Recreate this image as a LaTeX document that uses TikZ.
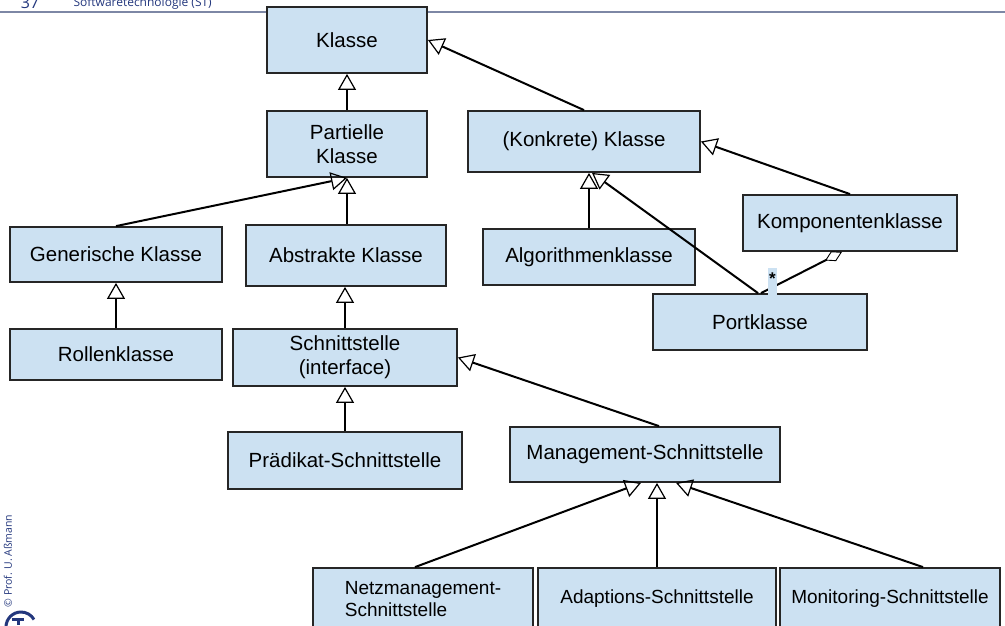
\documentclass[tikz,border=0pt]{standalone}
\usepackage{fontspec}
\setmainfont{Liberation Sans}
\newfontfamily\hdrfont{Open Sans}
\usetikzlibrary{arrows.meta,calc}
\definecolor{boxfill}{RGB}{204,225,242}
\definecolor{hdrline}{RGB}{125,135,165}
\definecolor{hdrtext}{RGB}{35,55,125}
\tikzset{
  box/.style={draw=black!85, line width=1.8pt, fill=boxfill, inner sep=2pt, align=center,
    font=\fontsize{20.5}{24}\selectfont},
  gen/.style={line width=2pt, -{Triangle[open,length=16pt,width=18pt,line width=1.2pt]}},
  agg/.style={line width=2pt, -{Diamond[open,length=19pt,width=11pt,line width=0.9pt]}},
}
\begin{document}
\begin{tikzpicture}[x=1pt,y=-1pt]
\useasboundingbox (0,0) rectangle (1005,625);
% header
\draw[hdrline, line width=1.2pt] (0,12) -- (1005,12);
\node[anchor=base, text=hdrtext, font=\hdrfont\fontsize{16}{16}\selectfont] (pagenum) at (30,8) {37};
\node[anchor=base west, text=hdrtext, font=\hdrfont\fontsize{12}{12}\selectfont] (course) at (70,6.5) {Softwaretechnologie (ST)};
\node[rotate=90, text=hdrtext, font=\hdrfont\fontsize{10.5}{10.5}\selectfont] (author) at (8,561) {© Prof. U. Aßmann};
\draw[hdrtext, line width=3pt] (6,627) arc[start angle=180, end angle=330, radius=15];
\draw[hdrtext, line width=3pt] (12,619) -- (24,619) (18,619) -- (18,625);

% boxes
\node[box, minimum width=160pt, minimum height=66pt] (klasse) at (347,40) {Klasse};
\node[box, minimum width=160pt, minimum height=66pt] (partielle) at (347,144) {Partielle\\Klasse};
\node[box, minimum width=232pt, minimum height=61pt] (konkrete) at (584,141.5) {(Konkrete) Klasse};
\node[box, minimum width=212pt, minimum height=55pt] (generisch) at (116,254.5) {Generische Klasse};
\node[box, minimum width=200pt, minimum height=61pt] (abstrakt) at (346,255.5) {Abstrakte Klasse};
\node[box, minimum width=212pt, minimum height=56pt] (algo) at (589,257) {Algorithmenklasse};
\node[box, minimum width=214pt, minimum height=56pt] (kompo) at (850,223) {Komponentenklasse};
\node[box, minimum width=214pt, minimum height=56pt] (port) at (760,322) {Portklasse};
\node[box, minimum width=212pt, minimum height=51pt] (rolle) at (116,354.5) {Rollenklasse};
\node[box, minimum width=224pt, minimum height=57pt, font=\fontsize{20.5}{24}\selectfont] (schnitt) at (345,357.5) {Schnittstelle\\(interface)};
\node[box, minimum width=234pt, minimum height=57pt] (praed) at (345,460.5) {Prädikat-Schnittstelle};
\node[box, minimum width=270pt, minimum height=55pt] (mgmt) at (645,454.5) {Management-Schnittstelle};
\node[box, minimum width=220pt, minimum height=62pt, align=left, font=\fontsize{19}{22.5}\selectfont] (netz) at (423,599) {Netzmanagement-\\Schnittstelle};
\node[box, minimum width=238pt, minimum height=62pt, font=\fontsize{19}{22.5}\selectfont] (adapt) at (657,599) {Adaptions-Schnittstelle};
\node[box, minimum width=220pt, minimum height=62pt, font=\fontsize{19}{22.5}\selectfont] (monitor) at (890,599) {Monitoring-Schnittstelle};

% generalizations
\draw[gen] (partielle.north) -- (klasse.south);
\draw[gen] (konkrete.north) -- (klasse.east);
\draw[gen] (generisch.north) -- (partielle.south);
\draw[gen] (abstrakt.north -| partielle.south) -- (partielle.south);
\draw[gen] (rolle.north) -- (generisch.south);
\draw[gen] (schnitt.north) -- (schnitt.north |- abstrakt.south);
\draw[gen] (praed.north) -- (schnitt.south);
\draw[gen] ($(mgmt.north)+(14,0)$) -- (schnitt.east);
\draw[gen] (algo.north) -- (algo.north |- konkrete.south);
\draw[gen] ($(port.north)+(-2,0)$) -- ($(konkrete.south)+(8,0)$);
\draw[gen] (kompo.north) -- (konkrete.east);
\draw[gen] ($(netz.north)+(-8,0)$) -- ($(mgmt.south)+(-4,0)$);
\draw[gen] (adapt.north) -- (adapt.north |- mgmt.south);
\draw[gen] ($(monitor.north)+(33,0)$) -- ($(mgmt.south)+(31,0)$);

% aggregation
\draw[agg] ($(port.north)+(1,0)$) -- ($(kompo.south)+(-8,0)$);
\node[fill=boxfill, inner sep=1pt, minimum width=9pt, minimum height=27pt, font=\bfseries\fontsize{17}{17}\selectfont, anchor=south] (mult) at (772.5,295) {\raisebox{6pt}{*}};
\end{tikzpicture}
\end{document}
